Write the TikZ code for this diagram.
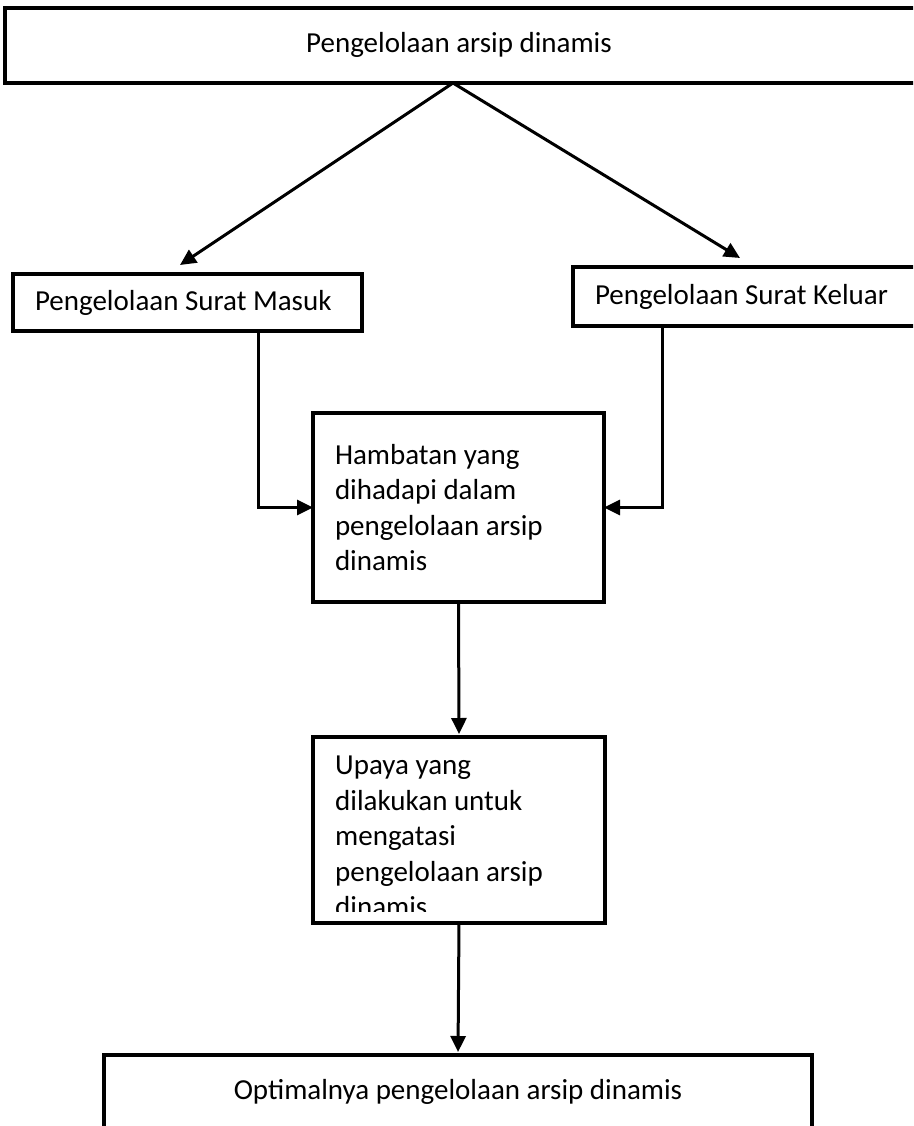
\documentclass[tikz,border=0pt]{standalone}
\usepackage{fontspec}
\setmainfont{Carlito}
\usetikzlibrary{arrows.meta,positioning}

\begin{document}
\begin{tikzpicture}[
    x=1pt, y=-1pt,
    box/.style={draw, line width=3.3pt, anchor=north west, outer sep=0pt, inner xsep=22pt, inner ysep=0pt,
                align=left, font=\fontsize{29}{35.5}\selectfont,
                execute at begin node={\spaceskip=0pt\xspaceskip=0pt}},
    arr/.style={-{Triangle[length=16pt, width=15pt]}, line width=3pt},
]
\useasboundingbox (0,0) rectangle (913,1126);
\clip (0,0) rectangle (913,1126);

% Top box
\node[box, minimum width=920pt, minimum height=75pt] (arsip) at (5,8) {};
\node[font=\fontsize{29}{35.5}\selectfont] (arsiptext) at (459,45) {Pengelolaan arsip dinamis};

% Incoming and outgoing letters
\node[box, text width=305pt, minimum height=57pt] (masuk) at (13,274) {Pengelolaan Surat Masuk};
\node[box, text width=320pt, minimum height=59pt] (keluar) at (573,267) {Pengelolaan Surat Keluar};

% Obstacles
\node[box, text width=247pt, minimum height=189pt] (hambatan) at (313,413)
    {Hambatan yang\\dihadapi dalam\\pengelolaan arsip\\dinamis};

% Efforts (text cut off at the bottom)
\node[box, minimum width=292pt, minimum height=186pt] (upaya) at (313,737) {};
\begin{scope}
    \clip (313,737) rectangle (605,911);
    \node[anchor=north west, inner sep=0pt, align=left, font=\fontsize{29}{35.5}\selectfont]
        (upayatext) at (335,756) {Upaya yang\\dilakukan untuk\\mengatasi\\pengelolaan arsip\\dinamis};
\end{scope}

% Result
\node[box, minimum width=708pt, minimum height=74pt] (optimal) at (104,1055) {};
\node[font=\fontsize{29}{35.5}\selectfont] (optimaltext) at (458,1092) {Optimalnya pengelolaan arsip dinamis};

% Arrows
\coordinate (apex) at (453,83);
\coordinate (tipL) at (180,265);
\coordinate (tipR) at (740,258);
\coordinate (colL) at (258,0);
\coordinate (colR) at (662,0);
\draw[arr] (apex) -- (tipL);
\draw[arr] (apex) -- (tipR);
\draw[arr] (masuk.south -| colL) |- (hambatan.west);
\draw[arr] (keluar.south -| colR) |- (hambatan.east);
\draw[arr, shorten >=3pt] (hambatan.south) -- (upaya.north);
\draw[arr, shorten >=3pt] (upaya.south) -- (optimal.north);
\end{tikzpicture}
\end{document}
